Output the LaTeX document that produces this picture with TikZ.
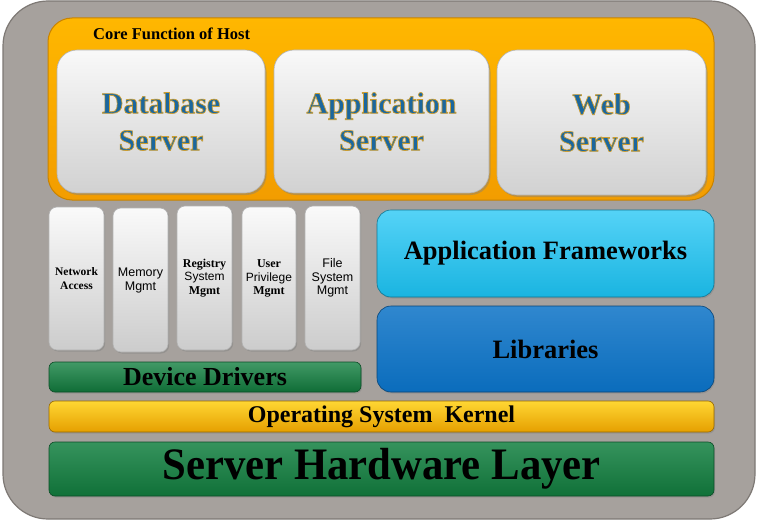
\documentclass[tikz,border=0pt]{standalone}
\usepackage{fontspec}
\setmainfont{Liberation Serif}
\setsansfont{Liberation Sans}
\usetikzlibrary{shadows}
\definecolor{outergray}{HTML}{A6A19D}
\definecolor{outerline}{HTML}{7E7975}
\definecolor{coreorange}{HTML}{FFA500}
\definecolor{coreline}{HTML}{C98300}
\definecolor{srvblue}{HTML}{1B679E}
\definecolor{cyanbox}{HTML}{1CC4F4}
\definecolor{bluebox}{HTML}{0B72C6}
\definecolor{greenbox}{HTML}{128040}
\definecolor{kernelor}{HTML}{FFB100}
\newcommand{\goldoutline}[1]{\special{pdf:literal direct 2 Tr 0.7 w 0.80 0.62 0.20 RG}#1\special{pdf:literal direct 0 Tr}}
\tikzset{
  panel/.style={inner sep=0pt, outer sep=0pt, anchor=north west, align=center},
  srvbox/.style={panel, rounded corners=20pt, top color=white!95!gray, bottom color=black!18, draw=black!30, line width=0.6pt,
     drop shadow={shadow xshift=1.5pt, shadow yshift=-2pt, opacity=0.45},
     font=\fontsize{30}{37}\selectfont\bfseries, text=srvblue},
  smallbox/.style={panel, rounded corners=8pt, top color=white!96!gray, bottom color=black!20, draw=black!30, line width=0.6pt,
     drop shadow={shadow xshift=1.2pt, shadow yshift=-1.5pt, opacity=0.45},
     font=\fontsize{12}{13.5}\selectfont\bfseries},
  barbox/.style={panel, rounded corners=6pt, line width=0.6pt,
     drop shadow={shadow xshift=1pt, shadow yshift=-1.5pt, opacity=0.4}, text=black},
}
\begin{document}
\begin{tikzpicture}[x=1pt,y=-1pt]
\useasboundingbox (0,0) rectangle (758,524);
\fill[white] (0,0) rectangle (758,524);
% outer gray frame
\node[panel, rounded corners=45pt, fill=outergray, draw=outerline, line width=1.2pt,
      minimum width=752pt, minimum height=518pt] (frame) at (3,1) {};
% core function
\node[panel, rounded corners=24pt, top color=coreorange!80!yellow, bottom color=coreorange!95!black, draw=coreline, line width=1pt,
      minimum width=666pt, minimum height=182pt] (core) at (48,18) {};
\node[anchor=west, inner sep=0pt, font=\fontsize{16.5}{18}\selectfont\bfseries] (corelbl) at (93,34) {Core Function of Host};
\node[srvbox, minimum width=208pt, minimum height=143pt] (db) at (57,50) {\goldoutline{Database\\Server}};
\node[srvbox, minimum width=215pt, minimum height=143pt] (app) at (274,50) {\goldoutline{Application\\Server}};
\node[srvbox, minimum width=209pt, minimum height=145pt] (web) at (497,50) {\goldoutline{Web\\Server}};
% small boxes
\node[smallbox, minimum width=55pt, minimum height=143pt, font=\fontsize{11.5}{13.5}\selectfont\bfseries] (net) at (49,207) {Network\\Access};
\node[smallbox, minimum width=55pt, minimum height=144pt, font=\fontsize{12.5}{14}\selectfont\sffamily] (mem) at (113,208) {Memory\\Mgmt};
\node[smallbox, minimum width=55pt, minimum height=144pt] (reg) at (177,206) {Registry\\{\sffamily\mdseries System}\\Mgmt};
\node[smallbox, minimum width=54pt, minimum height=143pt] (usr) at (242,207) {User\\{\sffamily\mdseries Privilege}\\Mgmt};
\node[smallbox, minimum width=55pt, minimum height=144pt, font=\fontsize{12.5}{13.5}\selectfont\sffamily] (fs) at (305,206) {File\\System\\Mgmt};
% bars
\node[barbox, top color=greenbox!80!white, bottom color=greenbox!85!black, draw=greenbox!60!black,
      minimum width=312pt, minimum height=30pt, font=\fontsize{26}{28}\selectfont\bfseries] (dd) at (49,362) {Device Drivers};
\node[barbox, rounded corners=14pt, top color=cyanbox!75!white, bottom color=cyanbox!92!black, draw=cyanbox!60!black,
      minimum width=337pt, minimum height=87pt, font=\fontsize{26.5}{28}\selectfont\bfseries] (afw) at (377,210) {Application Frameworks};
\node[barbox, rounded corners=14pt, top color=bluebox!85!white, bottom color=bluebox!95!black, draw=bluebox!60!black,
      minimum width=337pt, minimum height=86pt, font=\fontsize{26.5}{28}\selectfont\bfseries] (lib) at (377,306) {Libraries};
\node[barbox, top color=kernelor!65!yellow!80!white, bottom color=kernelor!90!black, draw=kernelor!60!black,
      minimum width=665pt, minimum height=31pt, font=\fontsize{24}{26}\selectfont\bfseries] (kern) at (49,401) {Operating System\ \ Kernel};
\node[barbox, top color=greenbox!85!white, bottom color=greenbox!88!black, draw=greenbox!60!black,
      minimum width=665pt, minimum height=54pt, font=\fontsize{45}{46}\selectfont\bfseries] (hw) at (49,442) {\scalebox{0.95}[1]{Server Hardware Layer}};
\end{tikzpicture}
\end{document}
